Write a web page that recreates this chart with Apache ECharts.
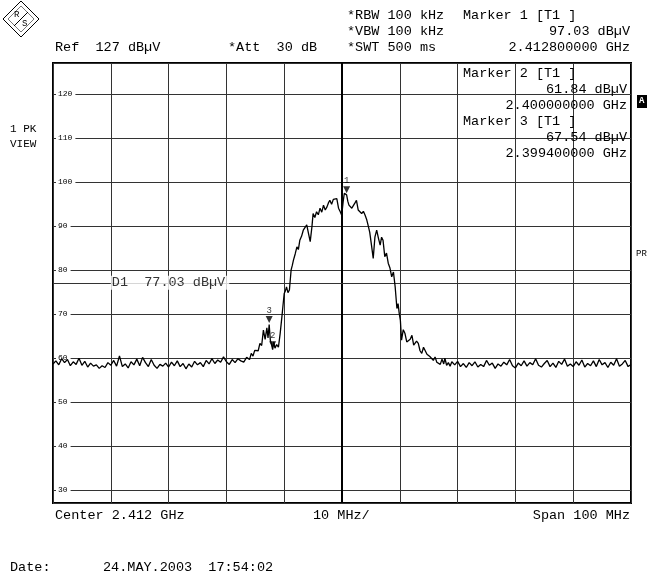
<!DOCTYPE html>
<html><head><meta charset="utf-8">
<script src="https://cdn.jsdelivr.net/npm/echarts@6/dist/echarts.min.js"></script>
<style>html,body{margin:0;padding:0;background:#fff}#c{width:647px;height:574px}</style>
</head><body><div id="c"></div>
<script>
// Frequency offset from centre (MHz), level (dBµV)
const trace = [
[-50,58.6],[-49.5,59.3],[-49,58.4],[-48.5,59.8],[-48,58.9],[-47.5,59.6],[-47,58.2],[-46.5,59.1],[-46,58.5],[-45.5,59.9],
[-45,58.3],[-44.5,59.2],[-44,57.9],[-43.5,58.8],[-43,58.1],[-42.5,58.4],[-42,57.6],[-41.5,58.2],[-41,57.8],[-40.5,58.9],
[-40,58.3],[-39.5,59.4],[-39,58.1],[-38.5,60.4],[-38,58.0],[-37.5,58.6],[-37,57.7],[-36.5,59.1],[-36,58.4],[-35.5,59.7],
[-35,58.2],[-34.5,60.1],[-34,58.9],[-33.5,58.0],[-33,59.6],[-32.5,58.3],[-32,57.6],[-31.5,58.5],[-31,58.1],[-30.5,58.8],
[-30,57.9],[-29.5,59.0],[-29,58.2],[-28.5,59.3],[-28,58.0],[-27.5,58.7],[-27,57.5],[-26.5,58.6],[-26,57.9],[-25.5,59.2],
[-25,58.4],[-24.5,58.9],[-24,58.0],[-23.5,59.4],[-23,58.6],[-22.5,59.8],[-22,58.7],[-21.5,59.5],[-21,59.0],[-20.5,60.2],
[-20,59.1],[-19.5,58.5],[-19,59.6],[-18.5,58.9],[-18,59.8],[-17.5,59.3],[-17,59.0],[-16.5,60.1],[-16,59.6],[-15.7,61.0],
[-15.4,60.4],[-15.1,61.7],[-14.8,62.1],[-14.5,61.6],[-14.2,63.3],[-13.9,62.8],[-13.6,66.3],[-13.3,64.2],[-13.0,66.8],[-12.8,64.5],
[-12.6,67.54],[-12.4,64.0],[-12.2,63.1],[-12.0,61.84],[-11.8,63.6],[-11.6,62.2],[-11.3,63.0],[-11.0,62.4],[-10.7,65.5],[-10.4,69.3],
[-10.2,72.0],[-10.0,74.6],[-9.8,75.2],[-9.6,76.1],[-9.35,74.8],[-9.1,75.4],[-8.8,80.0],[-8.6,81.0],[-8.4,82.2],[-8.1,83.6],
[-7.8,85.2],[-7.55,84.6],[-7.3,86.7],[-7.0,87.6],[-6.7,89.0],[-6.4,88.6],[-6.1,90.2],[-5.8,88.3],[-5.5,86.4],[-5.2,89.8],
[-5.0,92.8],[-4.7,91.9],[-4.4,93.2],[-4.1,92.5],[-3.8,94.0],[-3.5,93.1],[-3.2,94.7],[-2.9,93.6],[-2.6,94.3],[-2.35,95.2],
[-2.1,95.8],[-1.8,94.9],[-1.5,96.0],[-1.2,95.8],[-0.9,96.2],[-0.6,94.0],[-0.3,93.2],[-0.05,92.4],[0.2,95.5],[0.4,97.4],
[0.8,97.03],[1.0,95.6],[1.2,94.7],[1.4,95.1],[1.7,94.0],[2.0,94.3],[2.25,95.2],[2.5,95.8],[2.8,93.6],[3.1,93.9],
[3.4,92.8],[3.7,93.3],[4.0,92.4],[4.25,91.5],[4.5,90.2],[4.8,88.5],[5.1,85.6],[5.4,82.6],[5.7,87.5],[6.0,89.0],
[6.3,87.2],[6.6,85.6],[6.85,87.4],[7.1,86.7],[7.4,83.0],[7.7,83.8],[8.0,81.5],[8.3,80.4],[8.6,78.4],[8.9,79.5],
[9.2,76.1],[9.5,71.2],[9.7,72.3],[9.9,70.1],[10.1,68.5],[10.3,64.0],[10.6,66.4],[10.9,65.5],[11.2,63.6],[11.5,63.3],
[11.8,64.2],[12.1,65.1],[12.4,62.9],[12.6,62.5],[12.9,63.8],[13.2,63.3],[13.5,61.6],[13.8,61.0],[14.1,62.4],[14.4,62.1],
[14.7,60.8],[14.9,61.0],[15.2,60.3],[15.5,60.6],[15.8,59.4],[16.1,60.2],[16.4,59.0],[16.7,59.1],[17.0,58.5],[17.3,59.7],
[17.6,58.6],[17.8,59.9],[18.1,58.3],[18.4,58.9],[18.7,58.1],[19.0,59.1],[19.5,58.4],[20,59.2],[20.5,58.0],[21,58.7],
[21.5,57.8],[22,58.9],[22.5,58.2],[23,59.1],[23.5,57.9],[24,58.5],[24.5,58.0],[25,59.4],[25.5,58.3],[26,58.8],
[26.5,57.6],[27,58.6],[27.5,58.1],[28,59.0],[28.5,58.4],[29,59.6],[29.5,58.2],[30,57.7],[30.5,58.8],[31,58.2],
[31.5,59.3],[32,58.1],[32.5,58.9],[33,58.4],[33.5,59.8],[34,58.3],[34.5,57.9],[35,58.7],[35.5,59.4],[36,58.0],
[36.5,58.8],[37,57.8],[37.5,59.2],[38,58.5],[38.5,59.7],[39,58.1],[39.5,58.6],[40,58.0],[40.5,59.1],[41,58.3],
[41.5,59.5],[42,57.9],[42.5,58.7],[43,58.2],[43.5,59.3],[44,58.0],[44.5,59.6],[45,58.4],[45.5,58.9],[46,57.8],
[46.5,59.0],[47,58.3],[47.5,59.8],[48,58.1],[48.5,58.6],[49,59.4],[49.5,58.0],[50,58.5]
];
// markers: [offset MHz, level, id]
const markers = [[0.8,97.03,'1'],[-12.0,61.84,'2'],[-12.6,67.54,'3']];
const displayLine = 77.03;
const displayLineLabel = 'D1  77.03 dBµV';
const yTickLabels = [30,40,50,60,70,80,90,100,110,120];
const headerLeft = ['*RBW 100 kHz','*VBW 100 kHz','*SWT 500 ms'];
const markerText = ['Marker 1 [T1 ]','97.03 dBµV','2.412800000 GHz'];
const boxText = ['Marker 2 [T1 ]','61.84 dBµV','2.400000000 GHz','Marker 3 [T1 ]','67.54 dBµV','2.399400000 GHz'];

const MONO = '"Liberation Mono","DejaVu Sans Mono",monospace';
const F = 13.5;
function t(x,y,text,opt){return Object.assign({type:'text',x:x,y:y,z:50,style:Object.assign({text:text,font:F+'px '+MONO,fill:'#000',textVerticalAlign:'middle'},opt||{})});}

const graphic = [
  // logo
  {type:'polygon',z:50,shape:{points:[[21,1],[39,19],[21,37],[3,19]]},style:{fill:'#fff',stroke:'#000',lineWidth:1}},
  {type:'polygon',z:50,shape:{points:[[21,6],[34,19],[21,32],[8,19]]},style:{fill:'#fff',stroke:'#777',lineWidth:1}},
  {type:'line',z:51,shape:{x1:14,y1:26,x2:28,y2:12},style:{stroke:'#000',lineWidth:1}},
  t(14,15,'R',{font:'9px '+MONO}), t(22,24,'S',{font:'9px '+MONO}),
  t(347,15,headerLeft[0]), t(347,31,headerLeft[1]), t(347,47,headerLeft[2]),
  t(463,15,markerText[0]), t(630,31,markerText[1],{textAlign:'right'}), t(630,47,markerText[2],{textAlign:'right'}),
  t(55,47,'Ref  127 dBµV'), t(228,47,'*Att  30 dB'),
  t(463,73,boxText[0]), t(627,89,boxText[1],{textAlign:'right'}), t(627,105,boxText[2],{textAlign:'right'}),
  t(463,121,boxText[3]), t(627,137,boxText[4],{textAlign:'right'}), t(627,153,boxText[5],{textAlign:'right'}),
  t(10,129,'1 PK',{font:'11px '+MONO}), t(10,144,'VIEW',{font:'11px '+MONO}),
  {type:'rect',z:50,shape:{x:637,y:95,width:10,height:13},style:{fill:'#000'}},
  t(639,101,'A',{font:'bold 9px '+MONO,fill:'#fff'}),
  t(636,254,'PR',{font:'9px '+MONO}),
  t(55,515,'Center 2.412 GHz'), t(313,515,'10 MHz/'), t(630,515,'Span 100 MHz',{textAlign:'right'}),
  t(10,567,'Date:'), t(103,567,'24.MAY.2003  17:54:02')
];

const chart = echarts.init(document.getElementById('c'));
chart.setOption({
  animation:false,
  backgroundColor:'#fff',
  grid:{left:53,right:16,top:63,bottom:71,show:true,borderColor:'#000',borderWidth:2,backgroundColor:'transparent'},
  xAxis:{type:'value',min:-50,max:50,interval:10,axisLine:{show:false},axisTick:{show:false},axisLabel:{show:false},
    splitLine:{show:true,lineStyle:{color:'#333',width:1}}},
  yAxis:{type:'value',min:27,max:127,splitNumber:10,axisLine:{show:false},axisTick:{show:false},
    splitLine:{show:true,lineStyle:{color:'#333',width:1}},
    axisLabel:{inside:true,margin:3,fontSize:8,fontFamily:MONO,color:'#000',backgroundColor:'#fff',padding:[0,3,0,2],
      formatter:function(v){return yTickLabels.indexOf(v)>=0?String(v):'';}}},
  graphic:graphic,
  series:[
    {type:'line',data:trace,showSymbol:false,symbol:'none',z:5,lineStyle:{color:'#000',width:1.3},
      markLine:{silent:true,symbol:'none',label:{show:false},
        data:[{xAxis:0,lineStyle:{color:'#000',width:2,type:'solid'}},
              {yAxis:displayLine,lineStyle:{color:'#333',width:1,type:'solid'}}]}},
    {type:'scatter',data:markers,symbol:'triangle',symbolRotate:180,symbolSize:7,symbolOffset:[0,-5],z:8,
      itemStyle:{color:'#000'},
      label:{show:true,position:'top',distance:1,fontSize:9,fontFamily:MONO,color:'#000',formatter:function(p){return p.value[2];}}},
    {type:'scatter',data:[[-40,displayLine]],symbolSize:0,z:9,
      label:{show:true,position:'right',distance:0,fontSize:F,fontFamily:MONO,color:'#000',backgroundColor:'#fff',padding:[0,4,0,1],
        formatter:function(){return displayLineLabel;}}}
  ]
});
</script></body></html>
